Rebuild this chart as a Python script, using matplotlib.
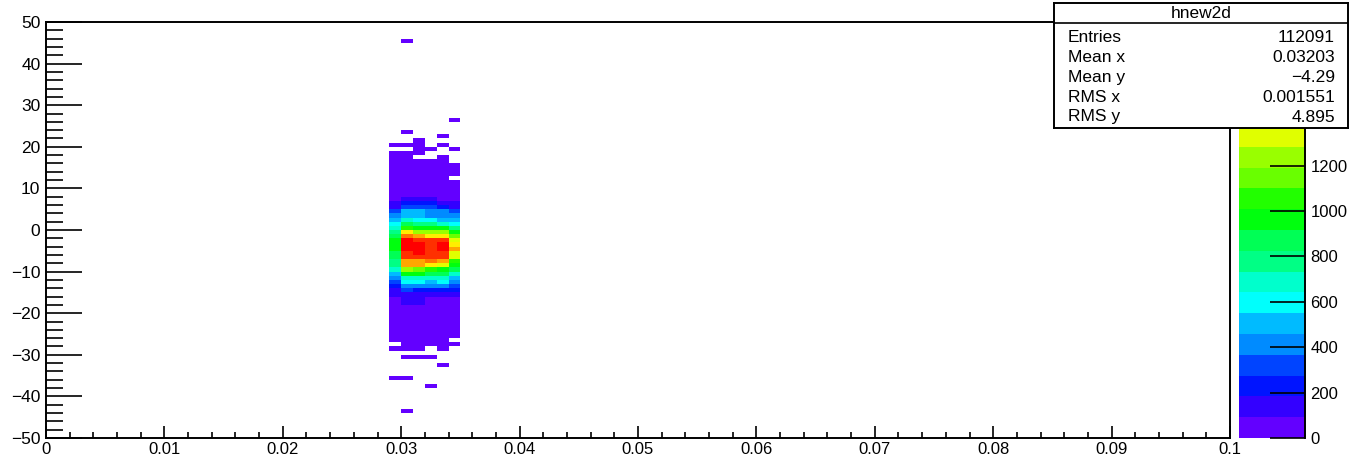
import colorsys
import numpy as np
import matplotlib
matplotlib.use("Agg")
import matplotlib.pyplot as plt
from matplotlib.colors import ListedColormap, BoundaryNorm
from matplotlib.lines import Line2D

plt.rcParams['font.family'] = ['Liberation Sans', 'DejaVu Sans']

# hnew2d: 100 x 100 bins, x in [0, 0.1], y in [-50, 50]
x_edges = np.linspace(0, 0.1, 101)
y_edges = np.linspace(-50, 50, 101)

# lower edges of the x bins that have entries
x_low = [0.029, 0.030, 0.031, 0.032, 0.033, 0.034]

# lower edges of the y bins that have entries, and the bin contents per x column
y_low = [45, 26, 23, 22, 21, 20, 19, 18, 17, 16, 15, 14, 13, 12, 11, 10, 9, 8,
         7, 6, 5, 4, 3, 2, 1, 0, -1, -2, -3, -4, -5, -6, -7, -8, -9, -10,
         -11, -12, -13, -14, -15, -16, -17, -18, -19, -20, -21, -22, -23, -24,
         -25, -26, -27, -28, -29, -31, -33, -36, -38, -44]
contents = [
    [0, 1, 0, 0, 0, 0],
    [0, 0, 0, 0, 0, 1],
    [0, 1, 0, 0, 0, 0],
    [0, 0, 0, 0, 1, 0],
    [0, 0, 1, 0, 0, 0],
    [1, 2, 1, 0, 1, 0],
    [0, 0, 2, 1, 0, 1],
    [2, 3, 2, 0, 0, 0],
    [4, 5, 0, 0, 2, 0],
    [6, 8, 5, 3, 4, 0],
    [9, 12, 10, 8, 7, 3],
    [13, 17, 15, 12, 11, 6],
    [18, 24, 21, 17, 15, 8],
    [25, 33, 29, 24, 20, 0],
    [33, 44, 39, 32, 27, 14],
    [42, 56, 51, 43, 36, 20],
    [52, 68, 64, 55, 46, 28],
    [63, 84, 80, 72, 60, 41],
    [78, 121, 114, 106, 84, 61],
    [131, 219, 210, 203, 160, 112],
    [176, 305, 297, 288, 236, 168],
    [318, 492, 481, 425, 414, 322],
    [405, 540, 528, 446, 437, 409],
    [497, 688, 601, 593, 512, 505],
    [589, 851, 779, 770, 694, 598],
    [679, 1047, 958, 951, 942, 770],
    [771, 1405, 1233, 1228, 1219, 949],
    [862, 1598, 1504, 1411, 1403, 1139],
    [955, 1790, 1687, 1680, 1676, 1318],
    [958, 1821, 1796, 1689, 1787, 1410],
    [951, 1808, 1779, 1683, 1774, 1497],
    [872, 1691, 1772, 1677, 1685, 1322],
    [864, 1682, 1688, 1672, 1679, 1315],
    [775, 1503, 1497, 1590, 1494, 1041],
    [768, 1495, 1489, 1412, 1320, 955],
    [681, 1230, 1139, 1046, 952, 861],
    [495, 949, 940, 860, 855, 672],
    [402, 680, 674, 668, 661, 490],
    [312, 588, 579, 495, 583, 401],
    [220, 404, 398, 395, 392, 311],
    [130, 316, 222, 218, 215, 209],
    [118, 132, 128, 125, 122, 115],
    [86, 119, 108, 88, 85, 74],
    [72, 104, 100, 76, 70, 61],
    [60, 78, 74, 63, 58, 50],
    [48, 63, 60, 51, 47, 40],
    [38, 50, 47, 40, 37, 31],
    [29, 38, 36, 31, 28, 23],
    [21, 28, 26, 22, 20, 16],
    [14, 19, 18, 15, 13, 10],
    [9, 12, 11, 9, 8, 6],
    [5, 7, 6, 5, 4, 3],
    [3, 4, 3, 2, 2, 0],
    [0, 2, 2, 1, 1, 1],
    [1, 1, 1, 0, 1, 0],
    [0, 1, 1, 1, 0, 0],
    [0, 0, 0, 0, 1, 0],
    [1, 1, 0, 0, 0, 0],
    [0, 0, 0, 1, 0, 0],
    [0, 1, 0, 0, 0, 0],
]

z_max = 1832
z_ticks = [0, 200, 400, 600, 800, 1000, 1200, 1400, 1600, 1800]
# labels above 1200 sit under the stats box
z_tick_labels = ["0", "200", "400", "600", "800", "1000", "1200", "", "", ""]
x_ticks = [0, 0.01, 0.02, 0.03, 0.04, 0.05, 0.06, 0.07, 0.08, 0.09, 0.1]
x_tick_labels = ["0", "0.01", "0.02", "0.03", "0.04", "0.05", "0.06", "0.07", "0.08", "0.09", "0.1"]
y_ticks = [-50, -40, -30, -20, -10, 0, 10, 20, 30, 40, 50]

stats_title = "hnew2d"
stats_names = ["Entries", "Mean x", "Mean y", "RMS x", "RMS y"]
stats_values = ["112091", "0.03203", "\u22124.29", "0.001551", "4.895"]


def root_pretty_palette(n_levels=20, n_pal=50):
    # ROOT palette 1: hue scan violet -> red, picked per contour level
    cols = []
    for j in range(n_levels):
        idx = int((j + 0.99) * n_pal / n_levels)
        hue = 0.0 if idx >= n_pal - 1 else 280 - (idx + 1) * 280.0 / n_pal
        cols.append(colorsys.hls_to_rgb(hue / 360.0, 0.5, 1.0))
    return cols


H = np.zeros((100, 100))
for yl, row in zip(y_low, contents):
    iy = int(round(yl + 50))
    for xl, n in zip(x_low, row):
        ix = int(round(xl / 0.001))
        H[iy, ix] = n
H = np.ma.masked_where(H == 0, H)

cmap = ListedColormap(root_pretty_palette())
levels = np.linspace(0, z_max, 21)
norm = BoundaryNorm(levels, cmap.N)

W, Hpx = 1351, 458
fig = plt.figure(figsize=(W / 100, Hpx / 100), dpi=100)
ax = fig.add_axes([46 / W, 20 / Hpx, 1184 / W, 416 / Hpx])
mesh = ax.pcolormesh(x_edges, y_edges, H, cmap=cmap, norm=norm,
                     antialiased=False, linewidth=0)
ax.set_xlim(0, 0.1)
ax.set_ylim(-50, 50)

ax.set_xticks(x_ticks)
ax.set_xticklabels(x_tick_labels)
ax.set_xticks(np.arange(0, 0.1001, 0.002), minor=True)
ax.set_yticks(y_ticks)
ax.set_yticks(np.arange(-50, 51, 2), minor=True)
ax.tick_params(axis='both', which='both', direction='in', top=False, right=False,
               labelsize=12, width=1.2, color='black')
ax.tick_params(axis='y', which='major', length=26, pad=4, labelsize=12.5)
ax.tick_params(axis='y', which='minor', length=12.5)
ax.tick_params(axis='x', which='major', length=8.5, pad=3)
ax.tick_params(axis='x', which='minor', length=4.5)
for s in ax.spines.values():
    s.set_linewidth(1.4)

cax = fig.add_axes([1239 / W, 20 / Hpx, 66 / W, 416 / Hpx])
cbar = fig.colorbar(mesh, cax=cax, ticks=z_ticks)
cbar.outline.set_visible(False)
cax.yaxis.set_ticks_position('right')
cax.set_yticklabels(z_tick_labels)
cax.tick_params(axis='y', which='major', direction='in', length=25, width=1.2,
                labelsize=12, pad=4)
cax.minorticks_off()
cax.add_line(Line2D([1, 1], [0, 1], transform=cax.transAxes, color='black',
                    linewidth=1.4, clip_on=False))

# stats box
sax = fig.add_axes([1054 / W, 330 / Hpx, 294 / W, 125 / Hpx])
sax.set_xlim(0, 1)
sax.set_ylim(0, 1)
sax.set_xticks([])
sax.set_yticks([])
sax.set_facecolor('white')
for s in sax.spines.values():
    s.set_linewidth(1.4)
sax.axhline((128 - 23) / 125, color='black', linewidth=1.2)
sax.text(0.5, (128 - 13) / 125, stats_title, ha='center', va='center', fontsize=12.5)
row_px = [37.5, 57.5, 77.5, 97.5, 117]
for name, val, p in zip(stats_names, stats_values, row_px):
    yy = (128 - p) / 125
    sax.text(0.048, yy, name, ha='left', va='center', fontsize=12.5)
    sax.text(0.956, yy, val, ha='right', va='center', fontsize=12.5)

fig.savefig("out.png", dpi=100)
